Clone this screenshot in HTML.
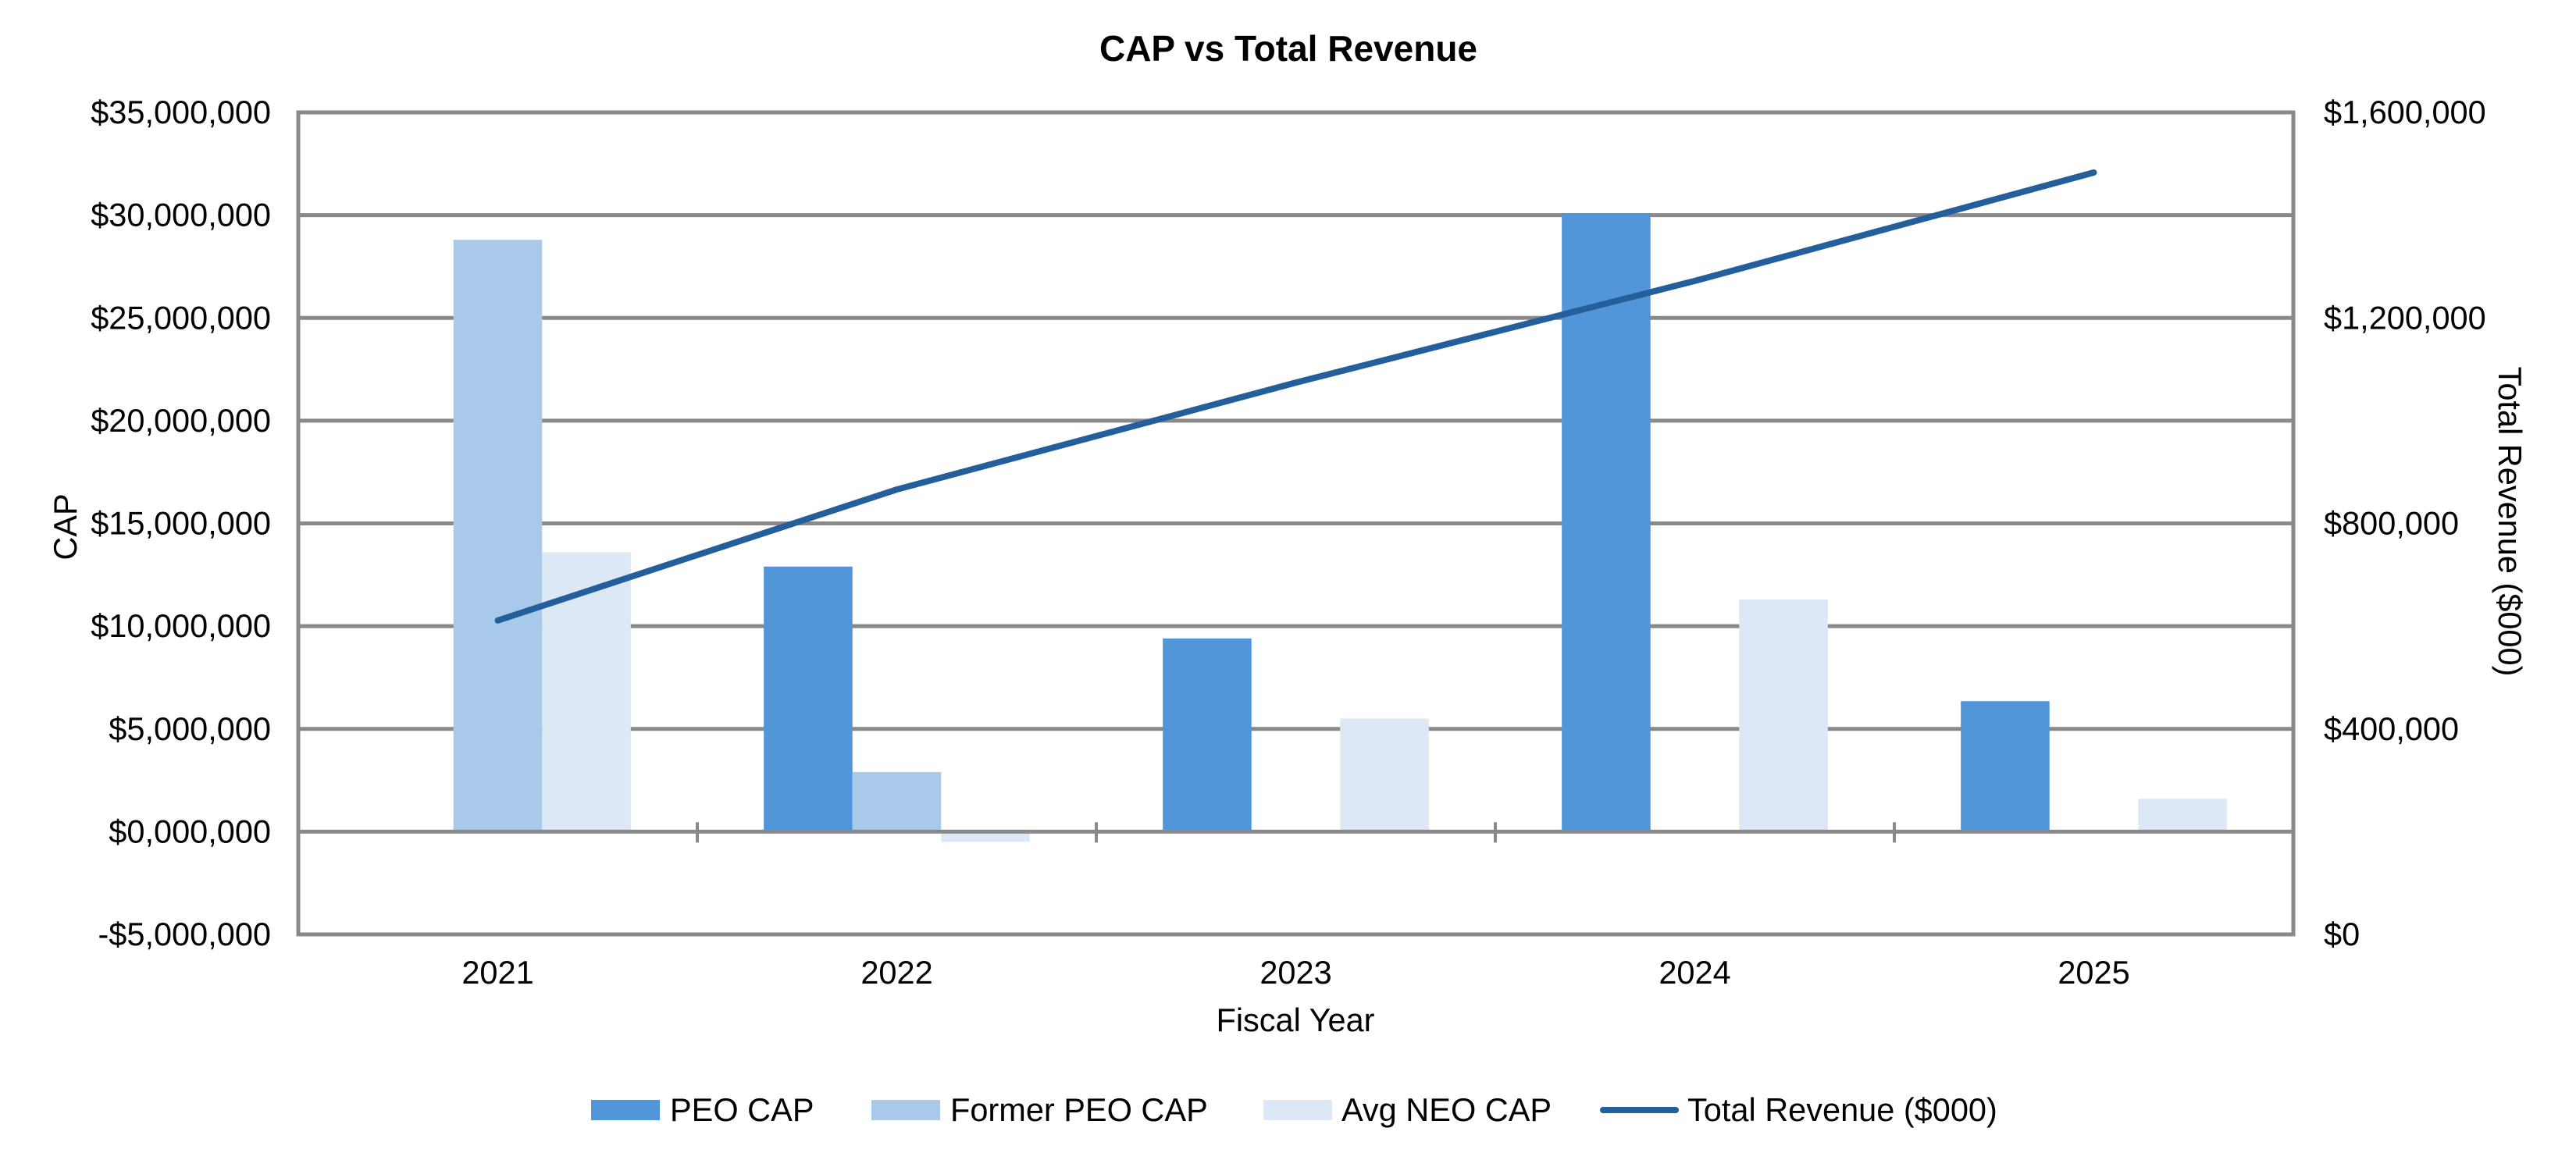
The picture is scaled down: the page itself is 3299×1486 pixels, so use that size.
<!DOCTYPE html>
<html><head><meta charset="utf-8"><style>
html,body{margin:0;padding:0;background:#fff;}
svg{display:block;font-family:"Liberation Sans",Arial,sans-serif;}
</style></head><body>
<svg id="chart" width="3299" height="1486" viewBox="0 0 3299 1486">
<text x="1650" y="78" text-anchor="middle" font-size="46" font-weight="bold">CAP vs Total Revenue</text>
<g id="grid"></g><g id="bars"></g><g id="line"></g><g id="axes"></g><g id="labels"></g>
<text transform="translate(98,675) rotate(-90)" text-anchor="middle" font-size="41.5">CAP</text>
<text transform="translate(3200,668) rotate(90)" text-anchor="middle" font-size="41.5">Total Revenue ($000)</text>
<text x="1659" y="1321" text-anchor="middle" font-size="41.5">Fiscal Year</text>
<g>
<rect x="757" y="1409" width="88" height="26" fill="#5096d8"/>
<text x="858" y="1436" font-size="41.5">PEO CAP</text>
<rect x="1116" y="1409" width="88" height="26" fill="#a9c9eb"/>
<text x="1217" y="1436" font-size="41.5">Former PEO CAP</text>
<rect x="1618" y="1409" width="88" height="26" fill="#dce8f5"/>
<text x="1718" y="1436" font-size="41.5">Avg NEO CAP</text>
<line x1="2053" y1="1422" x2="2146" y2="1422" stroke="#245f9c" stroke-width="8" stroke-linecap="round"/>
<text x="2161" y="1436" font-size="41.5">Total Revenue ($000)</text>
</g>
</svg>
<script>
const categories = ["2021","2022","2023","2024","2025"];
const peoCap = [0, 12900000, 9400000, 30100000, 6350000];
const formerPeoCap = [28800000, 2900000, 0, 0, 0];
const avgNeoCap = [13600000, -500000, 5500000, 11300000, 1600000];
const totalRevenue = [611000, 866000, 1074000, 1272000, 1483000];
const leftTicks = [-5000000,0,5000000,10000000,15000000,20000000,25000000,30000000,35000000];
const rightTicks = [0,400000,800000,1200000,1600000];

const NS="http://www.w3.org/2000/svg";
const L=382,R=2937,T=144,B=1197;
const yMin=-5000000,yMax=35000000,rMax=1600000;
const catW=(R-L)/categories.length;
const barW=catW/4.5;
function y(v){return B-(v-yMin)/(yMax-yMin)*(B-T);}
function y2(v){return B-v/rMax*(B-T);}
function xc(i){return L+catW*(i+0.5);}
function mk(tag,attrs,parent){const e=document.createElementNS(NS,tag);for(const k in attrs)e.setAttribute(k,attrs[k]);document.getElementById(parent).appendChild(e);return e;}
function fmt(v){const n=Math.abs(v);let s;if(n===0)s="0,000,000";else s=n.toLocaleString("en-US");return (v<0?"-$":"$")+s;}

leftTicks.forEach(v=>{
  if(v!==0&&v!==yMin){const g=mk("line",{x1:L,x2:R,y1:y(v),y2:y(v),stroke:"#898989","stroke-width":5},"grid");
  
  }
  const t=mk("text",{x:347,y:y(v)+14,"text-anchor":"end","font-size":41.5},"labels");
  t.textContent=fmt(v);
  
  
});
rightTicks.forEach(v=>{
  const t=mk("text",{x:2976,y:y2(v)+14,"font-size":41.5},"labels");
  t.textContent="$"+v.toLocaleString("en-US");
  
  
});
const series=[[peoCap,"#5096d8","peo-cap"],[formerPeoCap,"#a9c9eb","former-peo-cap"],[avgNeoCap,"#dce8f5","avg-neo-cap"]];
categories.forEach((c,i)=>{
  series.forEach((s,j)=>{
    const v=s[0][i]; if(v===0) return;
    const x=xc(i)-1.5*barW+j*barW;
    const y0=y(0),yv=y(v);
    const r=mk("rect",{x:x,y:Math.min(y0,yv),width:barW,height:Math.abs(yv-y0),fill:s[1]},"bars");
    
    
  });
  const t=mk("text",{x:xc(i),y:1260,"text-anchor":"middle","font-size":41.5},"labels");
  t.textContent=c;
  
  
  if(i>0){const tk=mk("line",{x1:L+catW*i,x2:L+catW*i,y1:y(0)-12,y2:y(0)+14,stroke:"#898989","stroke-width":4},"axes");
  
  }
});
const zl=mk("line",{x1:L,x2:R,y1:y(0),y2:y(0),stroke:"#898989","stroke-width":5},"axes");


const frame=mk("rect",{x:L,y:T,width:R-L,height:B-T,fill:"none",stroke:"#898989","stroke-width":5},"axes");


const pts=totalRevenue.map((v,i)=>xc(i)+","+y2(v)).join(" ");
const pl=mk("polyline",{points:pts,fill:"none",stroke:"#245f9c","stroke-width":8,"stroke-linecap":"round","stroke-linejoin":"round"},"line");


</script>
</body></html>
